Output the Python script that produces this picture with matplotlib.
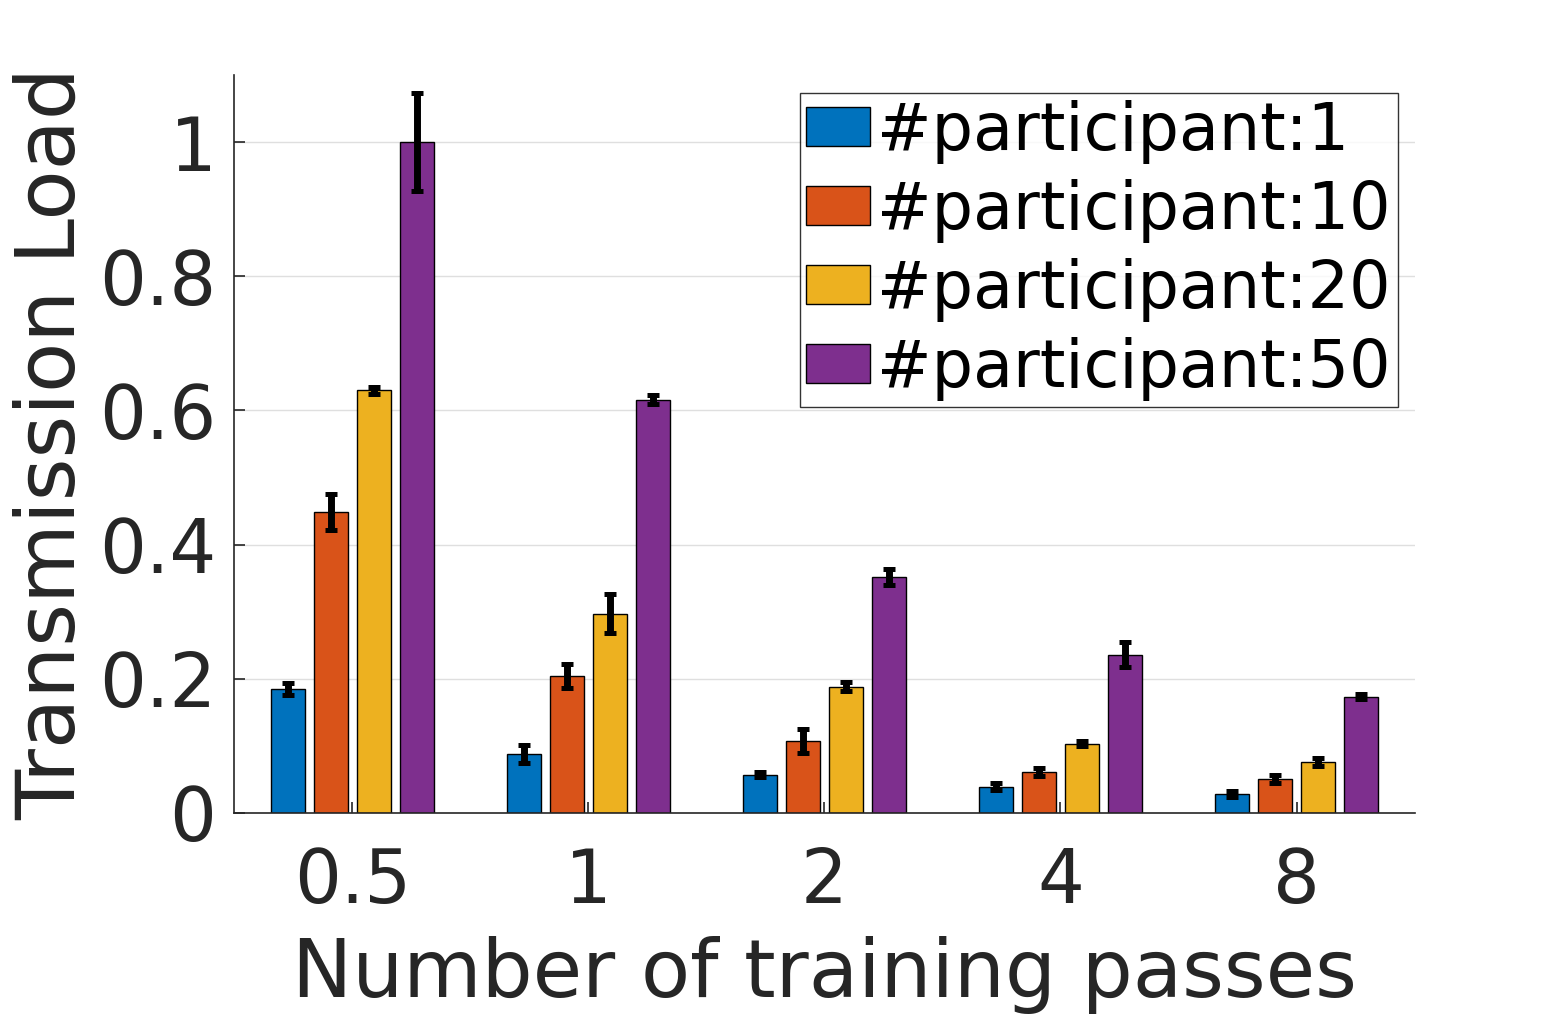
import matplotlib
matplotlib.use("Agg")
import matplotlib.pyplot as plt
import numpy as np

# data
passes = ["0.5", "1", "2", "4", "8"]
series = ["#participant:1", "#participant:10", "#participant:20", "#participant:50"]
load_p1 = [0.184, 0.088, 0.057, 0.039, 0.028]
load_p10 = [0.448, 0.204, 0.107, 0.061, 0.050]
load_p20 = [0.630, 0.297, 0.188, 0.103, 0.076]
load_p50 = [1.000, 0.616, 0.351, 0.236, 0.173]
err_p1 = [0.009, 0.013, 0.004, 0.005, 0.004]
err_p10 = [0.027, 0.018, 0.018, 0.006, 0.006]
err_p20 = [0.005, 0.029, 0.007, 0.004, 0.006]
err_p50 = [0.073, 0.007, 0.012, 0.019, 0.004]

colors = ["#0072BD", "#D95319", "#EDB120", "#7E2F8E"]
values = [load_p1, load_p10, load_p20, load_p50]
errors = [err_p1, err_p10, err_p20, err_p50]

plt.rcParams['font.family'] = ['DejaVu Sans']

fig = plt.figure(figsize=(15.63, 10.16), dpi=100)
ax = fig.add_axes([0.150, 0.200, 0.755, 0.726])

x = np.arange(1, len(passes) + 1)
step = 0.182
width = 0.145
for i in range(4):
    pos = x + (i - 1.5) * step
    ax.bar(pos, values[i], width, color=colors[i], edgecolor="black",
           linewidth=1.0, label=series[i], zorder=2)
    ax.errorbar(pos, values[i], yerr=errors[i], fmt="none", ecolor="black",
                elinewidth=5, capsize=4.5, capthick=3.6, zorder=3)

ax.set_xlim(0.5, 5.5)
ax.set_ylim(0, 1.1)
ax.set_xticks(x)
ax.set_xticklabels(passes)
ax.set_yticks([0, 0.2, 0.4, 0.6, 0.8, 1.0])
ax.set_yticklabels(["0", "0.2", "0.4", "0.6", "0.8", "1"])
ax.tick_params(axis="both", direction="in", length=8, width=1.2,
               labelsize=53, colors="#262626")
ax.tick_params(axis="x", pad=24)
ax.tick_params(axis="y", pad=13)
ax.grid(axis="y", color="#dfdfdf", linewidth=1.0, zorder=0)
ax.set_axisbelow(True)
for s in ["top", "right"]:
    ax.spines[s].set_visible(False)
for s in ["left", "bottom"]:
    ax.spines[s].set_color("#262626")
    ax.spines[s].set_linewidth(1.2)

ax.set_xlabel("Number of training passes", fontsize=58, color="#262626", labelpad=12)
ax.set_ylabel("Transmission Load", fontsize=59, color="#262626", labelpad=5)

leg = ax.legend(loc="upper right", bbox_to_anchor=(0.9856, 0.9756), fontsize=47,
                frameon=True, fancybox=False, edgecolor="black",
                handlelength=0.97, handleheight=0.55, handletextpad=0.12,
                borderpad=0.1, labelspacing=0.23, borderaxespad=0)
leg.get_frame().set_linewidth(1.0)

fig.savefig("out.png", dpi=100)
